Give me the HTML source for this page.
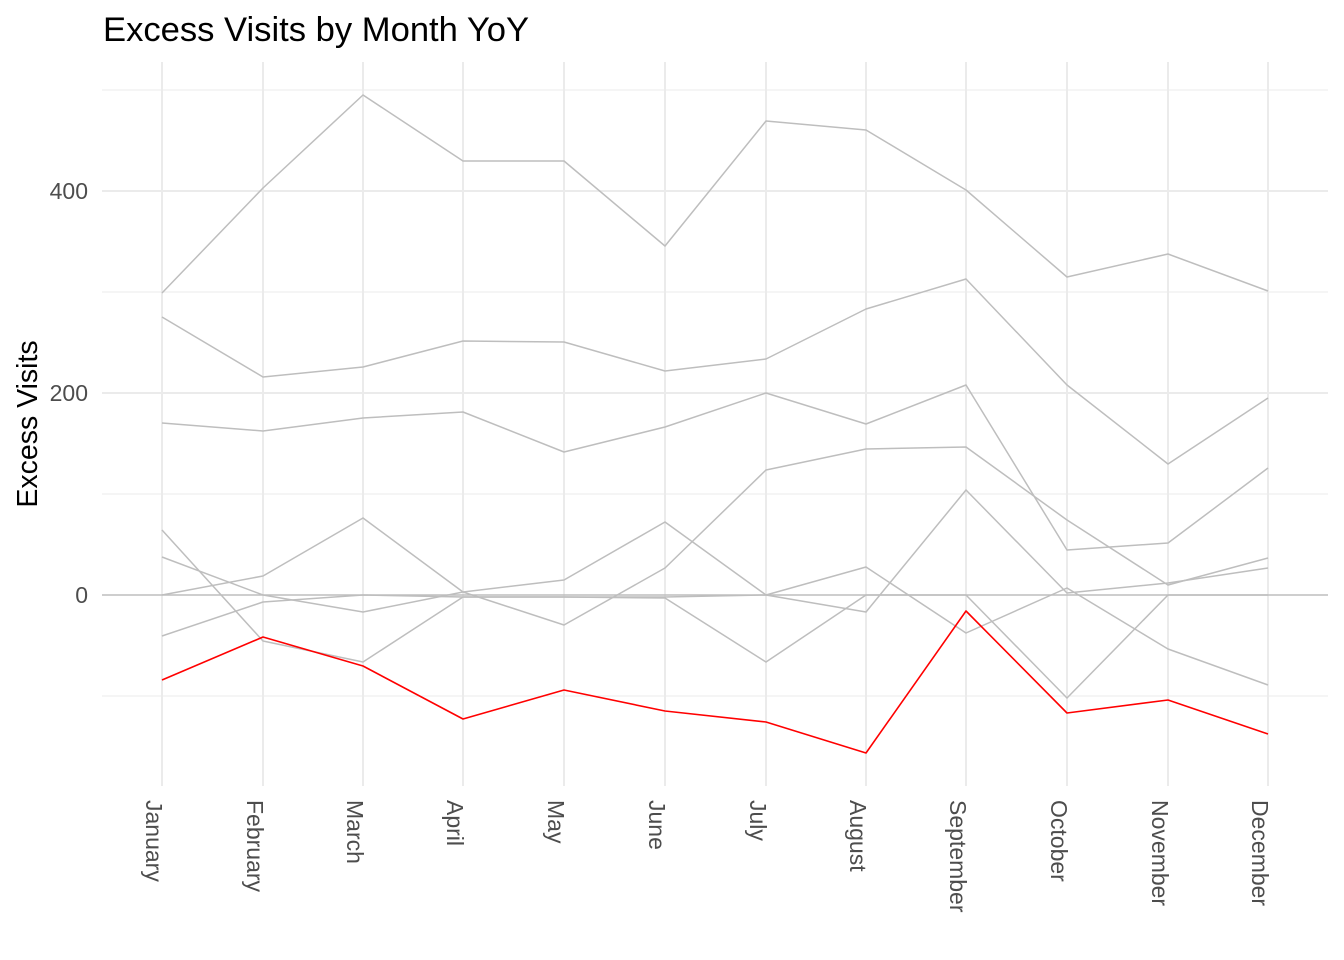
<!DOCTYPE html>
<html><head><meta charset="utf-8"><style>html,body{margin:0;padding:0;background:#fff;}svg{display:block;}</style></head>
<body>
<svg width="1344" height="960" viewBox="0 0 1344 960" xmlns="http://www.w3.org/2000/svg" font-family="Liberation Sans, Arial, sans-serif">
<rect width="1344" height="960" fill="#fff"/>
<g stroke="#ebebeb" stroke-width="1">
<line x1="102" x2="1328" y1="90" y2="90"/><line x1="102" x2="1328" y1="292" y2="292"/>
<line x1="102" x2="1328" y1="494" y2="494"/><line x1="102" x2="1328" y1="696" y2="696"/>
</g>
<g stroke="#ebebeb" stroke-width="2">
<line x1="102" x2="1328" y1="191" y2="191"/><line x1="102" x2="1328" y1="393" y2="393"/>
<line x1="162" x2="162" y1="62" y2="786"/><line x1="263" x2="263" y1="62" y2="786"/>
<line x1="363" x2="363" y1="62" y2="786"/><line x1="463" x2="463" y1="62" y2="786"/>
<line x1="564" x2="564" y1="62" y2="786"/><line x1="665" x2="665" y1="62" y2="786"/>
<line x1="766" x2="766" y1="62" y2="786"/><line x1="866" x2="866" y1="62" y2="786"/>
<line x1="966" x2="966" y1="62" y2="786"/><line x1="1067" x2="1067" y1="62" y2="786"/>
<line x1="1168" x2="1168" y1="62" y2="786"/><line x1="1268" x2="1268" y1="62" y2="786"/>
</g>
<g fill="none" stroke="#bebebe" stroke-width="1.5" stroke-linejoin="round">
<line x1="102" x2="1328" y1="595" y2="595"/>
<polyline points="162,293 263,188 363,95 463,161 564,161 665,246 766,121 866,130 966,190 1067,277 1168,254 1268,291"/>
<polyline points="162,317 263,377 363,367 463,341 564,342 665,371 766,359 866,309 966,279 1067,385 1168,464 1268,398"/>
<polyline points="162,423 263,431 363,418 463,412 564,452 665,427 766,393 866,424 966,385 1067,550 1168,543 1268,468"/>
<polyline points="162,530 263,641 363,662 463,597 564,597 665,598 766,662 866,595 966,595 1067,698 1168,595 1268,595"/>
<polyline points="162,557 263,595 363,612 463,592 564,580 665,522 766,595 866,612 966,490 1067,593 1168,583 1268,568"/>
<polyline points="162,595 263,576 363,518 463,592 564,625 665,568 766,470 866,449 966,447 1067,520 1168,585 1268,558"/>
<polyline points="162,636 263,602 363,595 463,597 564,597 665,597 766,595 866,567 966,633 1067,588 1168,649 1268,685"/>
</g>
<polyline fill="none" stroke="#ff0000" stroke-width="1.6" stroke-linejoin="round" points="162,680 263,637 363,666 463,719 564,690 665,711 766,722 866,753 966,611 1067,713 1168,700 1268,734"/>
<text x="103" y="41" font-size="34.6" fill="#000">Excess Visits by Month YoY</text>
<text transform="translate(37,424) rotate(-90)" text-anchor="middle" font-size="28.5" fill="#000">Excess Visits</text>
<g font-size="23" fill="#4d4d4d" text-anchor="end">
<text x="88" y="199">400</text><text x="88" y="401">200</text><text x="88" y="603">0</text>
</g>
<g font-size="23" fill="#4d4d4d">
<text transform="translate(146,800) rotate(90)">January</text>
<text transform="translate(247,800) rotate(90)">February</text>
<text transform="translate(347,800) rotate(90)">March</text>
<text transform="translate(447,800) rotate(90)">April</text>
<text transform="translate(548,800) rotate(90)">May</text>
<text transform="translate(649,800) rotate(90)">June</text>
<text transform="translate(750,800) rotate(90)">July</text>
<text transform="translate(850,800) rotate(90)">August</text>
<text transform="translate(950,800) rotate(90)">September</text>
<text transform="translate(1051,800) rotate(90)">October</text>
<text transform="translate(1152,800) rotate(90)">November</text>
<text transform="translate(1252,800) rotate(90)">December</text>
</g>
</svg>
</body></html>
